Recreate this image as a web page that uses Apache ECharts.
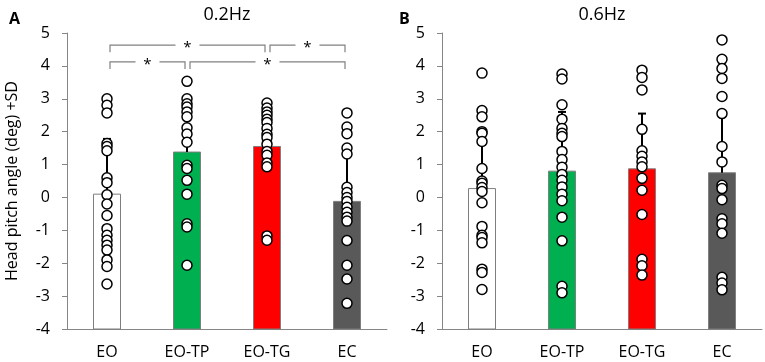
<!DOCTYPE html>
<html>
<head>
<meta charset="utf-8">
<script src="https://cdn.jsdelivr.net/npm/echarts@6/dist/echarts.min.js"></script>
<style>
  html, body { margin: 0; padding: 0; background: #fff; }
  #main { width: 765px; height: 362px; }
</style>
</head>
<body>
<div id="main"></div>
<script>
// categories and bar colours
var categories = ['EO', 'EO-TP', 'EO-TG', 'EC'];
var barColors = ['#ffffff', '#00b050', '#ff0000', '#595959'];
var yTicks = [-4, -3, -2, -1, 0, 1, 2, 3, 4, 5];

// 0.2Hz panel: means, mean+SD, individual subjects
var meanA = [0.1, 1.38, 1.55, -0.12];
var sdTopA = [1.78, 2.6, 2.3, 1.45];
var dotsA_EO = [3.0, 2.8, 2.57, 1.64, 1.55, 1.42, 0.6, 0.45, 0.08, -0.2, -0.55, -0.95, -1.15, -1.3, -1.45, -1.6, -1.9, -2.1, -2.63];
var dotsA_TP = [3.53, 3.0, 2.85, 2.75, 2.6, 2.45, 2.12, 1.93, 1.68, 0.98, 0.88, 0.52, 0.1, -0.8, -0.9, -2.06];
var dotsA_TG = [2.87, 2.72, 2.6, 2.5, 2.38, 2.28, 2.1, 1.92, 1.82, 1.62, 1.4, 1.28, 1.05, 0.93, -1.17, -1.3];
var dotsA_EC = [2.57, 2.14, 1.94, 1.5, 1.32, 0.31, 0.15, 0.0, -0.12, -0.3, -0.45, -0.6, -0.72, -1.31, -2.06, -2.48, -3.22];

// 0.6Hz panel
var meanB = [0.27, 0.8, 0.87, 0.75];
var sdTopB = [1.6, 2.6, 2.55, 2.6];
var dotsB_EO = [3.78, 2.64, 2.45, 2.0, 1.95, 1.7, 0.88, 0.5, 0.43, 0.3, 0.18, -0.16, -0.88, -1.15, -1.22, -1.38, -2.18, -2.28, -2.8];
var dotsB_TP = [3.75, 3.6, 2.82, 2.38, 2.1, 1.95, 1.85, 1.4, 1.15, 0.92, 0.7, 0.52, 0.32, 0.1, -0.1, -0.6, -1.32, -2.7, -2.9];
var dotsB_TG = [3.87, 3.65, 3.27, 2.07, 1.42, 1.25, 1.08, 0.93, 0.58, 0.22, -0.52, -1.88, -2.08, -2.36];
var dotsB_EC = [4.79, 4.2, 3.92, 3.62, 3.07, 2.55, 1.55, 1.08, 0.37, 0.27, -0.07, -0.65, -0.8, -1.09, -2.43, -2.6, -2.81];

// significance brackets (0.2Hz panel)
var bracketFrom = [0, 2, 0, 1];
var bracketTo = [2, 3, 1, 3];
var bracketLevel = [4.63, 4.63, 4.12, 4.12];
var bracketLabel = ['*', '*', '*', '*'];

var FONT = 'Open Sans';

function toPoints(lists) {
	var out = [];
	lists.forEach(function(list, i) {
		list.forEach(function(v) { out.push([i, v]); });
	});
	return out;
}

function barData(means) {
	return means.map(function(v, i) { return [i, v]; });
}

function errData(means, tops) {
	return means.map(function(v, i) { return [i, v, tops[i]]; });
}

// bars grow from the axis bottom (Excel style), not from zero
function renderBar(params, api) {
	var i = api.value(0);
	var top = api.coord([i, api.value(1)]);
	var base = api.coord([i, yTicks[0]]);
	var w = 27;
	return {
		type: 'rect',
		shape: { x: top[0] - w / 2, y: top[1], width: w, height: base[1] - top[1] },
		style: { fill: barColors[i], stroke: '#7f7f7f', lineWidth: 1 }
	};
}

function renderErr(params, api) {
	var p0 = api.coord([api.value(0), api.value(1)]);
	var p1 = api.coord([api.value(0), api.value(2)]);
	var st = { stroke: '#000', lineWidth: 2 };
	return {
		type: 'group',
		children: [
			{ type: 'line', shape: { x1: p0[0], y1: p0[1], x2: p1[0], y2: p1[1] }, style: st },
			{ type: 'line', shape: { x1: p1[0] - 4, y1: p1[1], x2: p1[0] + 4, y2: p1[1] }, style: st }
		]
	};
}

function renderBracket(params, api) {
	var a = api.coord([api.value(0), api.value(2)]);
	var b = api.coord([api.value(1), api.value(2)]);
	var x1 = a[0] + 3, x2 = b[0] - 2, y = a[1];
	var mid = (x1 + x2) / 2;
	var gap = 12, drop = 7;
	var st = { stroke: '#808080', lineWidth: 1.2, fill: null };
	return {
		type: 'group',
		children: [
			{ type: 'polyline', shape: { points: [[x1, y + drop], [x1, y], [mid - gap, y]] }, style: st },
			{ type: 'polyline', shape: { points: [[mid + gap, y], [x2, y], [x2, y + drop]] }, style: st },
			{ type: 'text', x: mid, y: y + 3, style: { text: bracketLabel[params.dataIndex], fill: '#000', font: '15px ' + FONT, align: 'center', verticalAlign: 'middle' } }
		]
	};
}

var chartDom = document.getElementById('main');
var myChart = echarts.init(chartDom, null, { renderer: 'canvas' });

function xAxisOf(gi) {
	return {
		type: 'category',
		gridIndex: gi,
		data: categories,
		axisLine: { onZero: false, lineStyle: { color: '#868686', width: 1 } },
		axisTick: { show: false },
		axisLabel: { color: '#000', fontFamily: FONT, fontSize: 16, margin: 15 }
	};
}

function yAxisOf(gi, withName) {
	var ax = {
		type: 'value',
		gridIndex: gi,
		min: yTicks[0],
		max: yTicks[yTicks.length - 1],
		interval: 1,
		splitLine: { show: false },
		axisLine: { show: true, lineStyle: { color: '#868686', width: 1 } },
		axisTick: { show: true, length: 5, lineStyle: { color: '#868686' } },
		axisLabel: { color: '#000', fontFamily: FONT, fontSize: 16, margin: 17 }
	};
	if (withName) {
		ax.name = 'Head pitch angle (deg) +SD';
		ax.nameLocation = 'middle';
		ax.nameGap = 47;
		ax.nameTextStyle = { color: '#000', fontFamily: FONT, fontSize: 16 };
	}
	return ax;
}

var option = {
	animation: false,
	backgroundColor: '#fff',
	title: [
		{ text: 'A', left: 4, top: 6, textStyle: { fontFamily: FONT, fontSize: 16, fontWeight: 'bold', color: '#000' } },
		{ text: '0.2Hz', left: 222, top: 1, textAlign: 'center', textStyle: { fontFamily: FONT, fontSize: 18, fontWeight: 'normal', color: '#000' } },
		{ text: 'B', left: 394, top: 6, textStyle: { fontFamily: FONT, fontSize: 16, fontWeight: 'bold', color: '#000' } },
		{ text: '0.6Hz', left: 597, top: 1, textAlign: 'center', textStyle: { fontFamily: FONT, fontSize: 18, fontWeight: 'normal', color: '#000' } }
	],
	grid: [
		{ left: 67, top: 33, width: 320, height: 296 },
		{ left: 442, top: 33, width: 320, height: 296 }
	],
	xAxis: [xAxisOf(0), xAxisOf(1)],
	yAxis: [yAxisOf(0, true), yAxisOf(1, false)],
	series: [
		{ type: 'custom', xAxisIndex: 0, yAxisIndex: 0, renderItem: renderBar, data: barData(meanA), z: 2 },
		{ type: 'custom', xAxisIndex: 1, yAxisIndex: 1, renderItem: renderBar, data: barData(meanB), z: 2 },
		{ type: 'custom', xAxisIndex: 0, yAxisIndex: 0, renderItem: renderErr, data: errData(meanA, sdTopA), z: 3 },
		{ type: 'custom', xAxisIndex: 1, yAxisIndex: 1, renderItem: renderErr, data: errData(meanB, sdTopB), z: 3 },
		{
			type: 'scatter', xAxisIndex: 0, yAxisIndex: 0, symbolSize: 10,
			itemStyle: { color: '#fff', borderColor: '#000', borderWidth: 1.5, opacity: 1 },
			data: toPoints([dotsA_EO, dotsA_TP, dotsA_TG, dotsA_EC]), z: 4
		},
		{
			type: 'scatter', xAxisIndex: 1, yAxisIndex: 1, symbolSize: 10,
			itemStyle: { color: '#fff', borderColor: '#000', borderWidth: 1.5, opacity: 1 },
			data: toPoints([dotsB_EO, dotsB_TP, dotsB_TG, dotsB_EC]), z: 4
		},
		{
			type: 'custom', xAxisIndex: 0, yAxisIndex: 0, renderItem: renderBracket, z: 5,
			data: bracketFrom.map(function(f, i) { return [f, bracketTo[i], bracketLevel[i]]; })
		}
	]
};

option && myChart.setOption(option, true);
</script>
</body>
</html>
